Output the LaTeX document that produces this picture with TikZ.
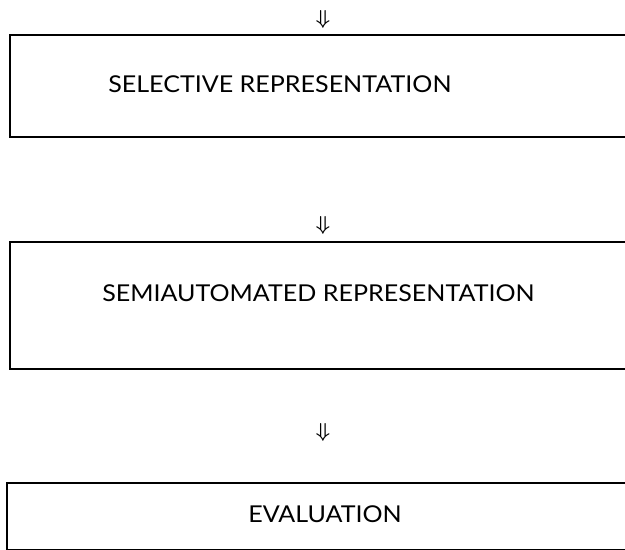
\documentclass[tikz,border=0pt]{standalone}
\usepackage{amsmath,bm}
\usepackage{fontspec}
\setmainfont{Lato}
\newfontfamily\stagefont[FakeStretch=1.08]{Lato}
\usepackage{tikz}
\usetikzlibrary{positioning}

\begin{document}
\begin{tikzpicture}
		%page frame
		\useasboundingbox (0,0) rectangle (15.625,13.75);
		\clip (0,0) rectangle (15.625,13.75);
		\tikzset{stage/.style={draw,line width=1.3pt,anchor=north west,minimum width=16.5cm,inner sep=0pt},
			stagetext/.style={inner sep=0pt,font=\stagefont\fontsize{16.5}{19}\selectfont},
			flow/.style={inner sep=0pt,font=\Large}}
		%print boxes
		\node[stage,minimum height=2.55cm] (B1) at (0.225,12.9) {};
		\node[stage,minimum height=3.175cm] (B2) at (0.225,7.725) {};
		\node[stage,minimum height=1.675cm] (B3) at (0.15,1.7) {};
		%print box texts
		\node[stagetext,anchor=west] (T1) at (2.7,11.65) {SELECTIVE REPRESENTATION};
		\node[stagetext,anchor=west] (T2) at (2.55,6.43) {SEMIAUTOMATED REPRESENTATION};
		\node[stagetext] (T3) at (8.125,0.9) {EVALUATION};
		%print arrows
		\node[flow] (A1) at (8.075,13.27) {$\bm{\Downarrow}$};
		\node[flow] (A2) at (8.075,8.12) {$\bm{\Downarrow}$};
		\node[flow] (A3) at (8.075,2.95) {$\bm{\Downarrow}$};
	\end{tikzpicture}
\end{document}
